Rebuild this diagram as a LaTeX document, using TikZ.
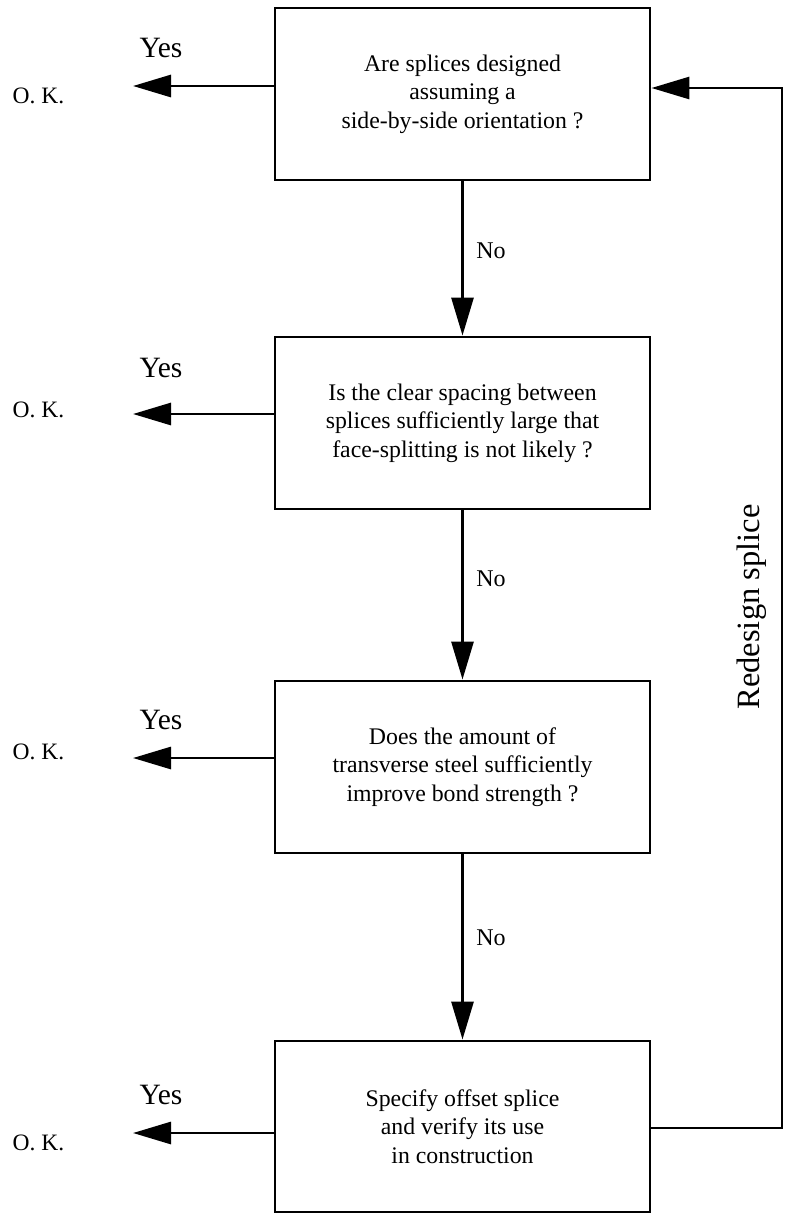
\documentclass[tikz,border=0pt]{standalone}
\usepackage{fontspec}
\setmainfont{Liberation Serif}
\usetikzlibrary{arrows.meta}
\begin{document}
\begin{tikzpicture}[x=1pt,y=1pt,
  box/.style={draw, line width=2.9pt, minimum width=375pt, minimum height=172pt, inner sep=0pt, align=center,
    font=\fontsize{23.8}{28.5}\selectfont},
  conn/.style={line width=2.9pt},
  arr/.style={conn, -{Triangle[length=38pt,width=22pt]}},
  yeslbl/.style={font=\fontsize{29.5}{32}\selectfont, inner sep=0pt},
  oklbl/.style={font=\fontsize{23.5}{26}\selectfont, inner sep=0pt},
  nolbl/.style={font=\fontsize{24}{26}\selectfont, inner sep=0pt}
]
\useasboundingbox (0,0) rectangle (785,-1213);
\node[box] (b1) at (462.5,-94) {\raisebox{5pt}{\begin{tabular}{@{}c@{}}Are splices designed\\assuming a\\side-by-side orientation ?\end{tabular}}};
\node[box] (b2) at (462.5,-423) {Is the clear spacing between\\splices sufficiently large that\\face-splitting is not likely ?};
\node[box] (b3) at (462.5,-767) {Does the amount of\\transverse steel sufficiently\\improve bond strength ?};
\node[box, minimum height=171pt] (b4) at (462.5,-1126.5) {Specify offset splice\\and verify its use\\in construction};

\node[yeslbl] (y1) at (161,-48) {Yes};
\node[yeslbl] (y2) at (161,-368) {Yes};
\node[yeslbl] (y3) at (161,-720) {Yes};
\node[yeslbl] (y4) at (161,-1095) {Yes};
\node[oklbl] (k1) at (38.5,-96) {O. K.};
\node[oklbl] (k2) at (38.5,-410) {O. K.};
\node[oklbl] (k3) at (38.5,-752) {O. K.};
\node[oklbl] (k4) at (38.5,-1143) {O. K.};
\node[nolbl] (n1) at (491,-251) {No};
\node[nolbl] (n2) at (491,-579) {No};
\node[nolbl] (n3) at (491,-938) {No};
\node[font=\fontsize{32.5}{36}\selectfont, rotate=90, inner sep=0pt] (rd) at (752,-607) {Redesign splice};

\coordinate (t1) at (133,-86);
\coordinate (t2) at (133,-414);
\coordinate (t3) at (133,-758);
\coordinate (t4) at (133,-1133);
\draw[arr] (b1.west |- t1) -- (t1);
\draw[arr] (b2.west |- t2) -- (t2);
\draw[arr] (b3.west |- t3) -- (t3);
\draw[arr] (b4.west |- t4) -- (t4);

\draw[arr] (b1.south) -- (b2.north);
\draw[arr] (b2.south) -- (b3.north);
\draw[arr] (b3.south) -- (b4.north);

\coordinate (fb1) at (782,-1128);
\coordinate (fb2) at (782,-88);
\draw[arr] (b4.east |- fb1) -- (fb1) -- (fb2) -- (b1.east |- fb2);
\end{tikzpicture}
\end{document}
